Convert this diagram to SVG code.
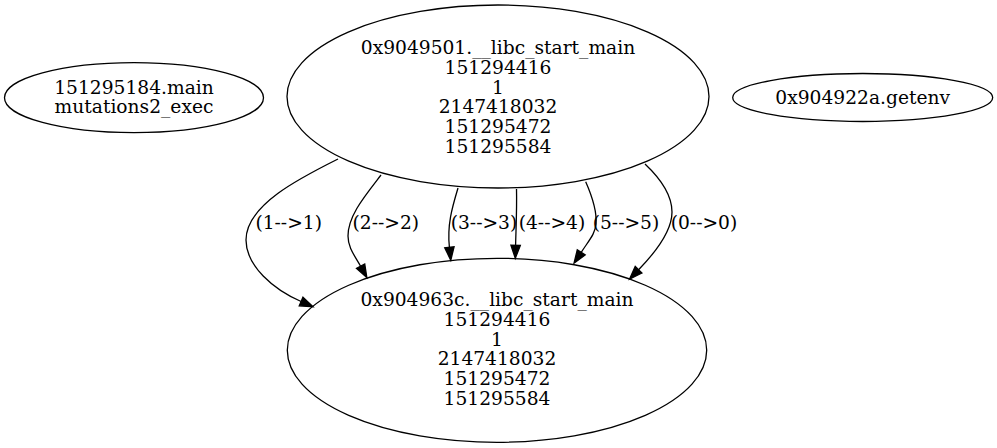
<svg xmlns="http://www.w3.org/2000/svg" width="997" height="448" viewBox="0 0 997 448">
  <style>
    .node ellipse { fill: none; stroke: #000; stroke-width: 1.3; }
    text { font-family: "DejaVu Serif", serif; font-size: 18.67px; fill: #000; text-anchor: middle; }
    .edge path { fill: none; stroke: #000; stroke-width: 1.3; marker-end: url(#arrow); }
  </style>
  <defs>
    <marker id="arrow" markerUnits="userSpaceOnUse" markerWidth="16" markerHeight="12" viewBox="0 -6 16 12" refX="0" refY="0" orient="auto" overflow="visible">
      <path d="M0,-4.7 L13,0 L0,4.7 Z" fill="#000" stroke="#000" stroke-width="1.3"/>
    </marker>
  </defs>
  <rect width="997" height="448" fill="#fff"/>

  <g id="node-main" class="node">
    <ellipse cx="134" cy="97.7" rx="129.5" ry="35"/>
    <text x="134" y="93.5">151295184.main</text>
    <text x="134" y="113.2">mutations2_exec</text>
  </g>

  <g id="node-start-main-top" class="node">
    <ellipse cx="498" cy="96.5" rx="211" ry="91.5"/>
    <text x="498" y="54.1">0x9049501.__libc_start_main</text>
    <text x="498" y="73.8">151294416</text>
    <text x="498" y="93.5">1</text>
    <text x="498" y="113.2">2147418032</text>
    <text x="498" y="132.9">151295472</text>
    <text x="498" y="152.6">151295584</text>
  </g>

  <g id="node-getenv" class="node">
    <ellipse cx="862.7" cy="97.5" rx="130" ry="24"/>
    <text x="862.7" y="103.5">0x904922a.getenv</text>
  </g>

  <g id="node-start-main-bottom" class="node">
    <ellipse cx="497" cy="350.3" rx="209.7" ry="92"/>
    <text x="497" y="306.1">0x904963c.__libc_start_main</text>
    <text x="497" y="325.8">151294416</text>
    <text x="497" y="345.5">1</text>
    <text x="497" y="365.2">2147418032</text>
    <text x="497" y="384.9">151295472</text>
    <text x="497" y="404.6">151295584</text>
  </g>

  <g id="edges">
    <g class="edge">
      <path d="M338,159 C300,178 246,205 246,240 C246,266 273.5,289.5 301.1,301.5"/>
      <text x="288.7" y="229">(1--&gt;1)</text>
    </g>
    <g class="edge">
      <path d="M381,175 C364,197 348,216 348,236 C348,248 355,256 360.6,266.2"/>
      <text x="385.8" y="229">(2--&gt;2)</text>
    </g>
    <g class="edge">
      <path d="M458,188 C452,208 447,225 449.4,247.3"/>
      <text x="484" y="229">(3--&gt;3)</text>
    </g>
    <g class="edge">
      <path d="M516.5,189 C517,208 516,228 515.6,245.3"/>
      <text x="552" y="229">(4--&gt;4)</text>
    </g>
    <g class="edge">
      <path d="M585.7,181.7 C592,196 597,212 596,224 C595,234 590,239 581.2,252.3"/>
      <text x="626" y="229">(5--&gt;5)</text>
    </g>
    <g class="edge">
      <path d="M645,164 C662,180 672,195 672,212 C672,232 652.6,255.3 638.6,269.7"/>
      <text x="704" y="229">(0--&gt;0)</text>
    </g>
  </g>
</svg>
